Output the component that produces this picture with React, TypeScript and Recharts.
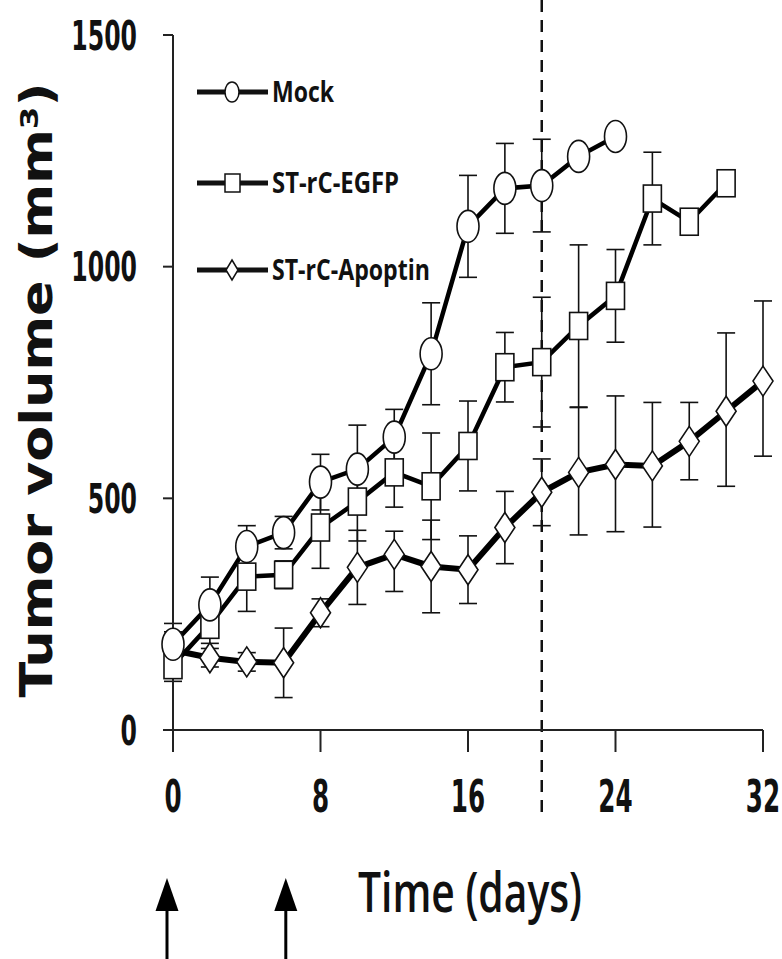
import { LineChart, Line, XAxis, YAxis, ErrorBar, ReferenceLine, Legend } from "recharts";

// days on which each group was measured
const mockDays = [0, 2, 4, 6, 8, 10, 12, 14, 16, 18, 20, 22, 24];
const egfpDays = [0, 2, 4, 6, 8, 10, 12, 14, 16, 18, 20, 22, 24, 26, 28, 30];
const apopDays = [0, 2, 4, 6, 8, 10, 12, 14, 16, 18, 20, 22, 24, 26, 28, 30, 32];

// mean tumor volume (mm3)
const mockVol = [185, 270, 396, 426, 535, 563, 632, 812, 1087, 1169, 1175, 1238, 1281];
const egfpVol = [140, 227, 331, 335, 437, 493, 556, 526, 613, 783, 794, 872, 937, 1147, 1097, 1180];
const apopVol = [172, 156, 147, 145, 253, 351, 379, 353, 346, 437, 513, 556, 573, 570, 623, 688, 753];

// error bars [down, up]
const mockErr = [[45, 45], [60, 60], [45, 45], [35, 35], [60, 60], [95, 95], [60, 60], [110, 110], [110, 110], [97, 97], [100, 100], null, null];
const egfpErr = [[35, 35], [40, 40], [75, 75], [30, 30], [88, 88], [85, 85], [75, 75], [115, 115], [97, 97], [75, 75], [140, 140], [175, 175], [100, 100], [100, 100], null, null];
const apopErr = [[40, 40], [20, 20], [20, 20], [75, 75], [30, 30], [80, 80], [80, 50], [100, 100], [73, 73], [78, 78], [72, 72], [135, 140], [145, 148], [132, 137], [83, 84], [162, 169], [162, 173]];

const xTicks = [0, 8, 16, 24, 32];
const yTicks = [0, 500, 1000, 1500];
const treatmentDays = [0, 6];

const seriesNames = ["Mock", "ST-rC-EGFP", "ST-rC-Apoptin"];

const build = (days: number[], vol: number[], err: (number[] | null)[]) =>
    days.map((d, i) => ({ day: d, v: vol[i], err: err[i] ?? undefined }));

const mockData = build(mockDays, mockVol, mockErr);
const egfpData = build(egfpDays, egfpVol, egfpErr);
const apopData = build(apopDays, apopVol, apopErr);

const BOLD = "'DejaVu Sans', Verdana, sans-serif";
const NARROW = "'Open Sans', 'Noto Sans', sans-serif";

const Circle = (p: any) => {
    if (p.cx == null || p.cy == null) return null;
    return <ellipse key={p.key} cx={p.cx} cy={p.cy} rx={11} ry={16} fill="#fff" stroke="#111" strokeWidth={1.6} />;
};
const Square = (p: any) => {
    if (p.cx == null || p.cy == null) return null;
    return <rect key={p.key} x={p.cx - 9} y={p.cy - 13.5} width={18} height={27} fill="#fff" stroke="#111" strokeWidth={1.6} />;
};
const Diamond = (p: any) => {
    if (p.cx == null || p.cy == null) return null;
    const { cx, cy } = p;
    return (
        <polygon key={p.key} points={`${cx},${cy - 15} ${cx + 10},${cy} ${cx},${cy + 15} ${cx - 10},${cy}`}
            fill="#fff" stroke="#111" strokeWidth={1.6} />
    );
};

const YTick = ({ x, y, payload }: any) => (
    <g transform={`translate(${x},${y})`}>
        <text transform="scale(0.59,1)" textAnchor="end" dy={14.5} fontFamily={BOLD} fontWeight={700} fontSize={40} fill="#111">
            {payload.value}
        </text>
    </g>
);

const XTick = ({ x, y, payload }: any) => (
    <g transform={`translate(${x},${y})`}>
        <text transform="scale(0.56,1)" textAnchor="middle" dy={32} fontFamily={BOLD} fontWeight={700} fontSize={44} fill="#111">
            {payload.value}
        </text>
    </g>
);

const YTitle = () => (
    <text transform="translate(52,390) rotate(-90)" textAnchor="middle" fontFamily={BOLD} fontWeight={700}
        fontSize={44} fill="#111" textLength={615} lengthAdjust="spacingAndGlyphs">
        Tumor volume (mm³)
    </text>
);

const XTitle = () => (
    <text x={358} y={912} fontFamily={NARROW} fontWeight={600} fontSize={56} fill="#111"
        textLength={224} lengthAdjust="spacingAndGlyphs">
        Time (days)
    </text>
);

const legendRows = [
    { name: seriesNames[0], cy: 92, width: 62, marker: "circle" },
    { name: seriesNames[1], cy: 183, width: 127, marker: "square" },
    { name: seriesNames[2], cy: 270, width: 158, marker: "diamond" },
];

const LegendBox = () => (
    <svg width={782} height={300} style={{ display: "block" }}>
        {legendRows.map((r) => (
            <g key={r.name}>
                <line x1={197} x2={268} y1={r.cy} y2={r.cy} stroke="#111" strokeWidth={5} />
                {r.marker === "circle" && <ellipse cx={232} cy={r.cy} rx={7} ry={10} fill="#fff" stroke="#111" strokeWidth={1.5} />}
                {r.marker === "square" && <rect x={225} y={r.cy - 9} width={15} height={18} fill="#fff" stroke="#111" strokeWidth={1.5} />}
                {r.marker === "diamond" && (
                    <polygon points={`232,${r.cy - 10} 238,${r.cy} 232,${r.cy + 10} 226,${r.cy}`} fill="#fff" stroke="#111" strokeWidth={1.5} />
                )}
                <text x={272} y={r.cy + 10} fontFamily={NARROW} fontWeight={700} fontSize={28} fill="#111"
                    textLength={r.width} lengthAdjust="spacingAndGlyphs">
                    {r.name}
                </text>
            </g>
        ))}
    </svg>
);

export default function App() {
    const barProps = { direction: "y" as const, width: 9, stroke: "#111", strokeWidth: 1.6 };
    return (
        <div style={{ position: "absolute", left: 0, top: 0, width: 782, height: 959, background: "#fff" }}>
            <LineChart width={782} height={959} margin={{ top: 35, right: 19, left: 0, bottom: 0 }}>
                <XAxis type="number" dataKey="day" domain={[0, 32]} ticks={xTicks} allowDuplicatedCategory={false}
                    height={229} tickSize={22} tickMargin={28} tick={<XTick />}
                    axisLine={{ stroke: "#222", strokeWidth: 2 }} tickLine={{ stroke: "#222", strokeWidth: 2 }}
                    label={<XTitle />} />
                <YAxis type="number" domain={[0, 1500]} ticks={yTicks} width={173} tickSize={10} tickMargin={26}
                    tick={<YTick />} axisLine={{ stroke: "#222", strokeWidth: 2 }} tickLine={{ stroke: "#222", strokeWidth: 2 }}
                    label={<YTitle />} />
                <ReferenceLine segment={[{ x: 20, y: -177 }, { x: 20, y: 1600 }]} ifOverflow="visible"
                    stroke="#111" strokeWidth={2.5} strokeDasharray="12 8" />
                <Line data={apopData} dataKey="v" name={seriesNames[2]} stroke="#000" strokeWidth={6}
                    dot={Diamond} activeDot={false} isAnimationActive={false}>
                    <ErrorBar dataKey="err" {...barProps} />
                </Line>
                <Line data={egfpData} dataKey="v" name={seriesNames[1]} stroke="#000" strokeWidth={4.5}
                    dot={Square} activeDot={false} isAnimationActive={false}>
                    <ErrorBar dataKey="err" {...barProps} />
                </Line>
                <Line data={mockData} dataKey="v" name={seriesNames[0]} stroke="#000" strokeWidth={4.5}
                    dot={Circle} activeDot={false} isAnimationActive={false}>
                    <ErrorBar dataKey="err" {...barProps} />
                </Line>
                <Legend layout="vertical" align="center" verticalAlign="middle" content={<LegendBox />}
                    wrapperStyle={{ left: 0, top: 0, width: 782, height: 300 }} />
            </LineChart>
            <svg width={782} height={959} style={{ position: "absolute", left: 0, top: 0, pointerEvents: "none" }}>
                {treatmentDays.map((d) => {
                    const x = 167 + d * 19.8;
                    return (
                        <g key={d}>
                            <line x1={x} x2={x} y1={905} y2={959} stroke="#000" strokeWidth={3} />
                            <polygon points={`${x},878 ${x + 11.5},911 ${x - 11.5},911`} fill="#000" />
                        </g>
                    );
                })}
            </svg>
        </div>
    );
}
